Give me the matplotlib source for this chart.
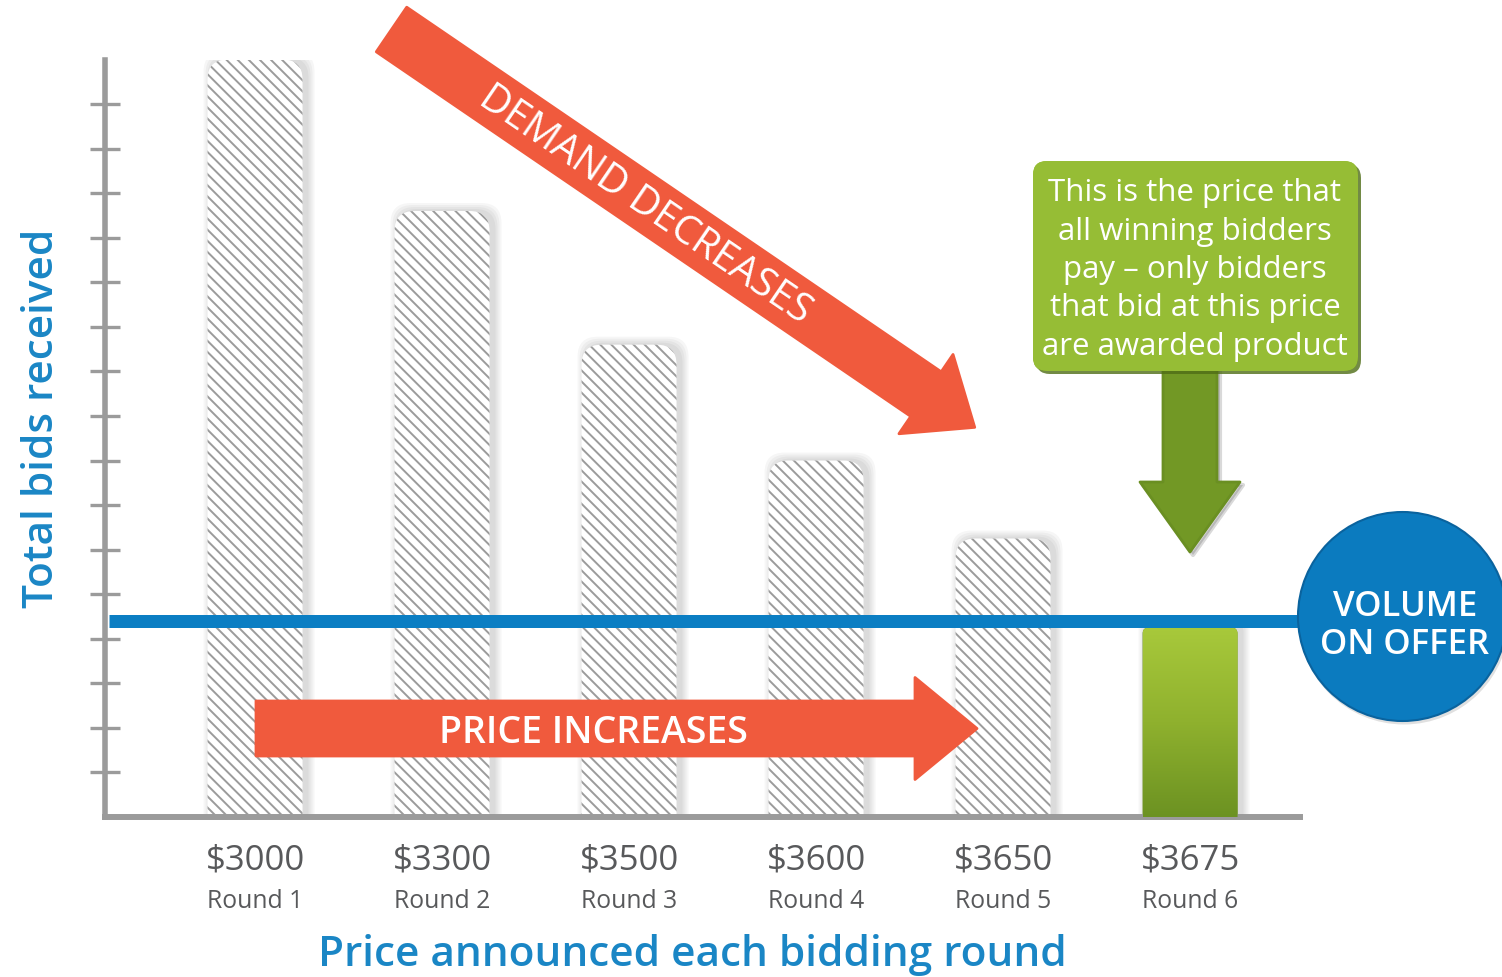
import numpy as np
import matplotlib
matplotlib.use("Agg")
import matplotlib.pyplot as plt
from matplotlib.patches import FancyBboxPatch, Polygon, Circle
from matplotlib.colors import LinearSegmentedColormap

# Daten
rounds = ["Round 1", "Round 2", "Round 3", "Round 4", "Round 5", "Round 6"]
prices = ["$3000", "$3300", "$3500", "$3600", "$3650", "$3675"]
bids = [17.0, 13.6, 10.6, 8.0, 6.25, 4.25]
volume_on_offer = 4.4
y_ticks = list(range(1, 17))

# Farben
GRAY = "#9b9b9b"
TEXT_GRAY = "#58595b"
BLUE = "#1a86c5"
LINE_BLUE = "#0b7ec3"
RED = "#f05a3d"
GREEN_TOP = "#a8c93b"
GREEN_BOT = "#6c9222"

W, H = 1502, 978
AX_L, AX_R, AX_T, AX_B = 104.5, 1300.0, 60.5, 818.0
XLIM = (-0.805, 5.588)
YLIM = (0, 17)

plt.rcParams["font.family"] = ["Open Sans", "DejaVu Sans"]
plt.rcParams["hatch.linewidth"] = 1.4
plt.rcParams["hatch.color"] = GRAY

fig = plt.figure(figsize=(W / 100, H / 100), dpi=100)
ax = fig.add_axes([AX_L / W, 1 - AX_B / H, (AX_R - AX_L) / W, (AX_B - AX_T) / H])
ax.set_xlim(*XLIM)
ax.set_ylim(*YLIM)

px_x = (AX_R - AX_L) / (XLIM[1] - XLIM[0])
px_y = (AX_B - AX_T) / (YLIM[1] - YLIM[0])
aspect = px_x / px_y
bar_w = 95 / px_x
x = np.arange(len(bids))


def ay(py):
    # Pixelzeile -> Achsenkoordinate
    return (AX_B - py) / (AX_B - AX_T)


# =========================
# Balken
# =========================
for i, (xi, b) in enumerate(zip(x, bids)):
    last = i == len(bids) - 1
    r = (6 if last else 20) / px_x
    style = f"round,pad=0,rounding_size={r}"
    # weicher Schatten
    for g in [8, 6, 4, 2]:
        sh = FancyBboxPatch((xi - bar_w / 2 + (2 - g) / px_x + 2 / px_x, -1),
                            bar_w + 2 * g / px_x, b + 1 + g / px_y,
                            boxstyle=style, mutation_aspect=aspect,
                            facecolor="black", alpha=0.035, linewidth=0, zorder=1)
        ax.add_patch(sh)
    if not last:
        bar = FancyBboxPatch((xi - bar_w / 2, -1), bar_w, b + 1, boxstyle=style,
                             mutation_aspect=aspect, facecolor="white", edgecolor=GRAY,
                             hatch="\\\\\\", linewidth=0, zorder=2)
        ax.add_patch(bar)
    else:
        bar = FancyBboxPatch((xi - bar_w / 2, -1), bar_w, b + 1, boxstyle=style,
                             mutation_aspect=aspect, facecolor=GREEN_BOT, linewidth=0, zorder=2)
        ax.add_patch(bar)
        cmap = LinearSegmentedColormap.from_list("g", [GREEN_TOP, "#8fb12e", GREEN_BOT])
        grad = np.linspace(0, 1, 256).reshape(-1, 1)
        im = ax.imshow(grad, cmap=cmap, aspect="auto", origin="upper",
                       extent=(xi - bar_w / 2, xi + bar_w / 2, 0, b), zorder=3)
        im.set_clip_path(bar)

# Angebotsvolumen
ax.plot([XLIM[0] + 4 / px_x, XLIM[1]], [volume_on_offer, volume_on_offer],
        color=LINE_BLUE, linewidth=13 * 0.72, solid_capstyle="butt", zorder=4)

# Achsen
for side in ["top", "right"]:
    ax.spines[side].set_visible(False)
ax.spines["left"].set_linewidth(4.0)
ax.spines["left"].set_color(GRAY)
ax.spines["bottom"].set_linewidth(4.3)
ax.spines["bottom"].set_color(GRAY)
ax.set_yticks(y_ticks)
ax.tick_params(axis="y", direction="inout", length=21, width=2.4, color=GRAY, labelleft=False)
ax.set_xticks([])
ax.patch.set_alpha(0)

tr = ax.get_xaxis_transform()
for xi, p, rd in zip(x, prices, rounds):
    ax.text(xi, ay(870), p, transform=tr, ha="center", va="baseline", fontsize=25, color=TEXT_GRAY)
    ax.text(xi, ay(908), rd, transform=tr, ha="center", va="baseline", fontsize=17.8, color=TEXT_GRAY)

ax.set_xlim(*XLIM)
ax.set_ylim(*YLIM)

# =========================
# Overlay in Pixelkoordinaten
# =========================
ov = fig.add_axes([0, 0, 1, 1], zorder=5)
ov.set_xlim(0, W)
ov.set_ylim(H, 0)
ov.axis("off")


def arrow_poly(tail, angle_deg, length, half_w, head_len, head_half):
    a = np.deg2rad(angle_deg)
    d = np.array([np.cos(a), np.sin(a)])
    n = np.array([-np.sin(a), np.cos(a)])
    t = np.array(tail, dtype=float)
    base = t + d * (length - head_len)
    return [t + n * half_w, base + n * half_w, base + n * head_half, t + d * length,
            base - n * head_half, base - n * half_w, t - n * half_w]


# rote Pfeile
ov.add_patch(Polygon(arrow_poly((391.5, 30.5), 34.3, 706, 27, 59, 48), closed=True,
                     facecolor=RED, edgecolor=RED, linewidth=2, joinstyle="round"))
ov.text(645, 205, "DEMAND DECREASES", rotation=-34.3, rotation_mode="anchor",
        ha="center", va="center", fontsize=28.5, color="white")

ov.add_patch(Polygon(arrow_poly((256, 729.5), 0, 721, 27.5, 62, 51), closed=True,
                     facecolor=RED, edgecolor=RED, linewidth=2, joinstyle="round"))
ov.text(593, 733, "PRICE INCREASES", ha="center", va="center", fontsize=27,
        color="white", weight="semibold")

# grüne Box mit Pfeil
ov.add_patch(Polygon(arrow_poly((1193, 372), 90, 184, 27, 70, 50), closed=True,
                     facecolor="black", alpha=0.15, linewidth=3, edgecolor="black", joinstyle="round"))
ov.add_patch(Polygon(arrow_poly((1190, 368), 90, 185, 27, 70, 50), closed=True,
                     facecolor="#729825", edgecolor="#6a8f22", linewidth=2, joinstyle="round"))
ov.add_patch(FancyBboxPatch((1036, 165), 325, 210, boxstyle="round,pad=0,rounding_size=14",
                            facecolor="#4f6d16", alpha=0.8, linewidth=0))
box = FancyBboxPatch((1033, 162), 325, 210, boxstyle="round,pad=0,rounding_size=14",
                     facecolor="#96bd35", linewidth=0)
ov.add_patch(box)
cmap_box = LinearSegmentedColormap.from_list("b", ["#a2c73d", "#8cb22e"])
grad = np.linspace(0, 1, 256).reshape(-1, 1)
im2 = ov.imshow(grad, cmap=cmap_box, aspect="auto", origin="upper",
                extent=(1033, 1358, 372, 162))
im2.set_clip_path(box)
ov.text(1195, 270, "This is the price that\nall winning bidders\npay \u2013 only bidders\n"
        "that bid at this price\nare awarded product",
        ha="center", va="center", fontsize=22.5, color="white", linespacing=1.36)

# Kreis "VOLUME ON OFFER"
ov.add_patch(Circle((1404, 620), 105.5, facecolor="black", alpha=0.12, linewidth=0))
circ = Circle((1402.5, 617.5), 104.5, facecolor="#0b7bbf", edgecolor="#0a639e", linewidth=1.5)
ov.add_patch(circ)
cmap_c = LinearSegmentedColormap.from_list("c", ["#1690d2", "#0a7bbd", "#0a69a8"])
im3 = ov.imshow(grad, cmap=cmap_c, aspect="auto", origin="upper",
                extent=(1298, 1507, 722, 513))
im3.set_clip_path(circ)
ov.text(1405, 626, "VOLUME\nON OFFER", ha="center", va="center", fontsize=25,
        color="white", linespacing=1.15, weight="semibold")

# Achsentitel
ov.text(53, 418, "Total bids received", rotation=90, rotation_mode="anchor",
        ha="center", va="baseline", fontsize=30.5, color=BLUE, weight="semibold")
ov.text(692, 966, "Price announced each bidding round", ha="center", va="baseline",
        fontsize=30.5, color=BLUE, weight="semibold")

ov.set_xlim(0, W)
ov.set_ylim(H, 0)

fig.savefig("out.png", dpi=100)
